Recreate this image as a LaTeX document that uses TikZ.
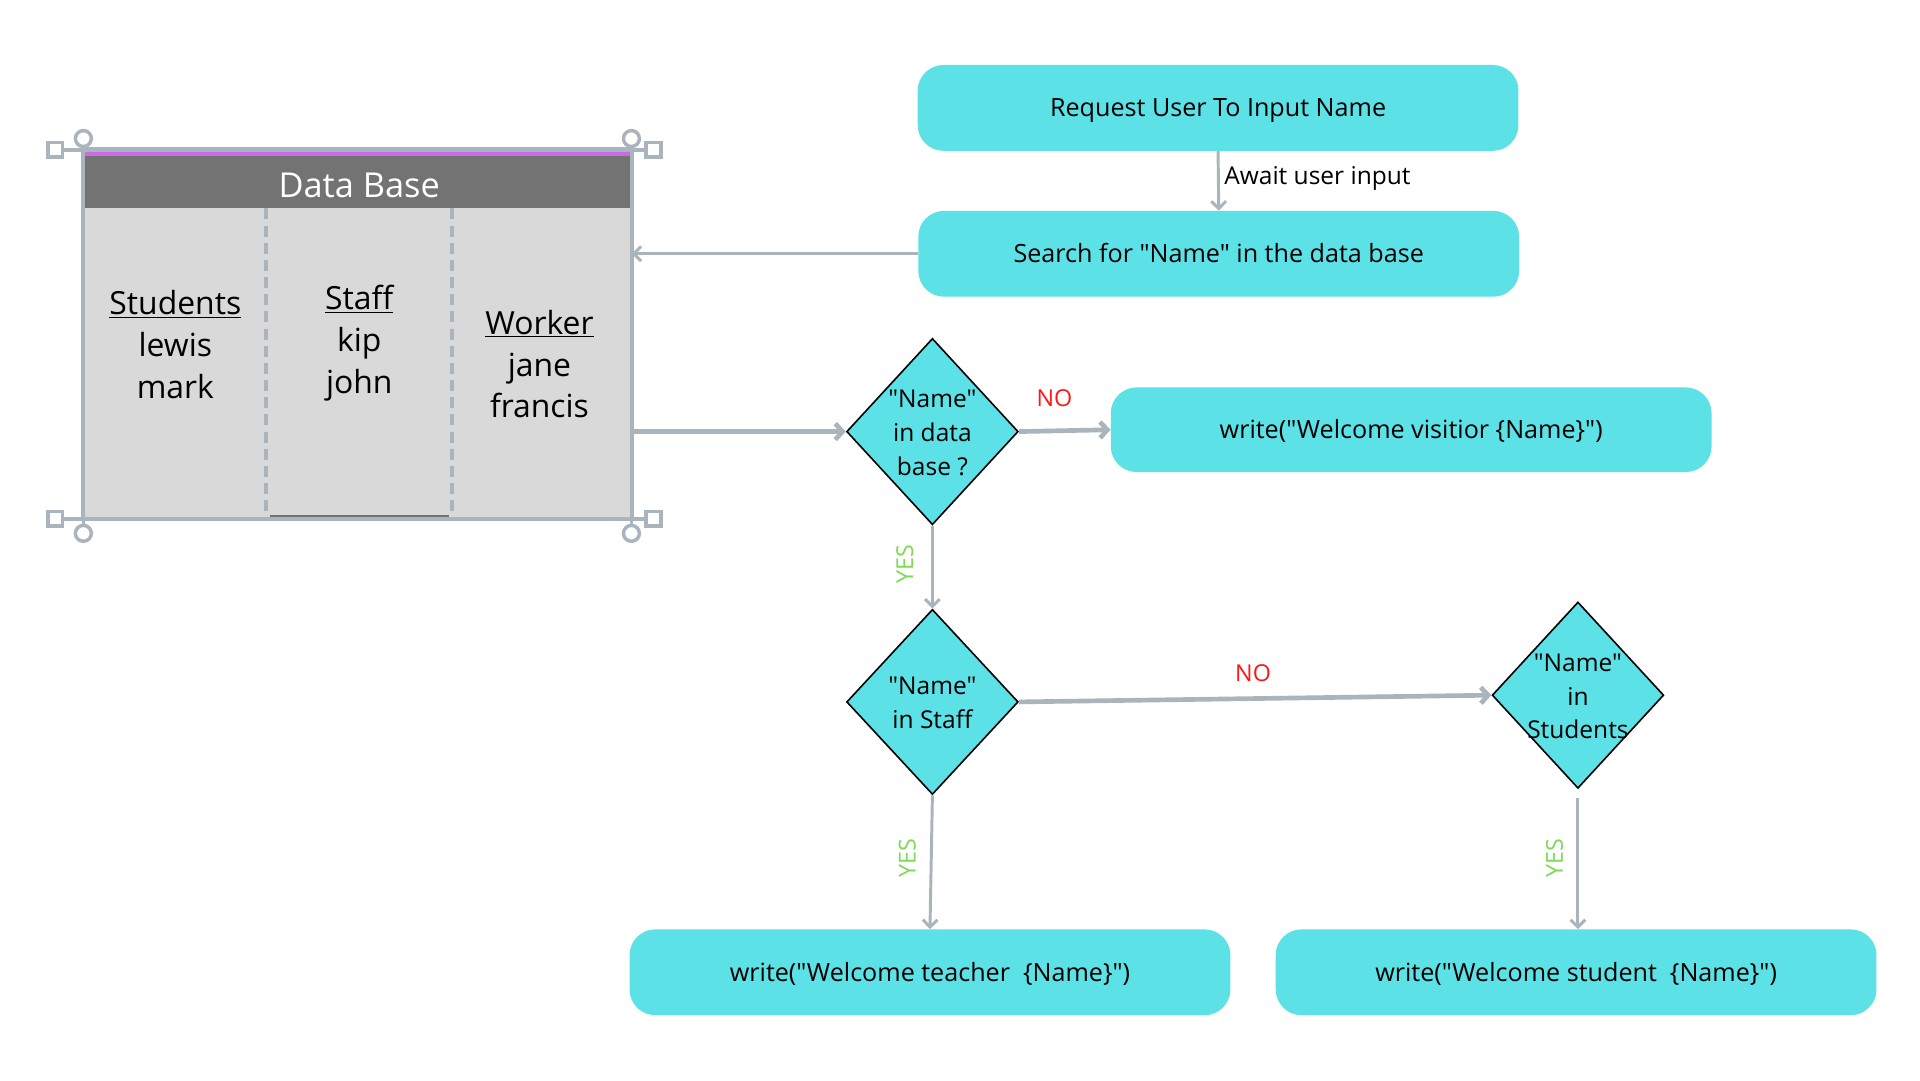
\documentclass[tikz,border=0pt]{standalone}
\usepackage{fontspec}
\setmainfont{Open Sans}[Ligatures=TeXOff]
\usetikzlibrary{arrows.meta,shapes.geometric}
\definecolor{cyanbox}{HTML}{5CE1E6}
\definecolor{arrowgray}{HTML}{A9B4BC}
\definecolor{nored}{HTML}{FF1616}
\definecolor{yesgreen}{HTML}{7ED957}
\definecolor{hdrgray}{HTML}{737373}
\definecolor{bodygray}{HTML}{D9D9D9}
\definecolor{purp}{HTML}{CB6CE6}
\begin{document}
\begin{tikzpicture}[x=1pt,y=-1pt,
  procbox/.style={fill=cyanbox, rounded corners=21pt, minimum width=490pt, minimum height=70pt, inner sep=0pt, text height=14.6pt, text depth=0pt, font=\fontsize{20.5}{24}\selectfont},
  decision/.style={diamond, fill=cyanbox, draw=black, line width=1.3pt, minimum width=140pt, minimum height=152pt, inner sep=0pt},
  dtext/.style={align=center, font=\fontsize{20}{27.5}\selectfont},
  thinarrow/.style={draw=arrowgray, line width=2.4pt, -{Straight Barb[length=6pt,width=12pt]}},
  thickarrow/.style={draw=arrowgray, line width=3.8pt, -{Straight Barb[length=6pt,width=13pt]}},
  nolabel/.style={text=nored, text height=13.5pt, text depth=0pt, font=\fontsize{19}{22}\selectfont},
  yeslabel/.style={text=yesgreen, font=\fontsize{19}{22}\selectfont, rotate=90},
  dbtext/.style={align=center, font=\fontsize{26}{34}\selectfont},
  handle/.style={draw=arrowgray, line width=2.8pt, fill=white},
]
\useasboundingbox[fill=white] (0,0) rectangle (1566,881);

% ---------- Data base ----------
\node[fill=bodygray, minimum width=447pt, minimum height=301pt, inner sep=0pt] (db) at (291.5,272.5) {};
\fill[hdrgray] (69.5,126) rectangle (513.5,170);
\fill[purp] (69.5,123.5) rectangle (513.5,127.5);
\draw[arrowgray, line width=3.2pt, dash pattern=on 9pt off 5pt] (217,170) -- (217,423);
\draw[arrowgray, line width=3.2pt, dash pattern=on 9pt off 5pt] (369,170) -- (369,423);
\draw[hdrgray, line width=1.2pt] (220,421) -- (366,421);
\draw[arrowgray, line width=3.2pt] (db.north west) rectangle (db.south east);
% selection handles
\draw[arrowgray, line width=3.2pt] (45,122) -- (533,122);
\draw[arrowgray, line width=3.2pt] (45,423) -- (533,423);
\draw[arrowgray, line width=2.8pt] (68,113) -- (68,122) (515,113) -- (515,122) (68,423) -- (68,435) (515,423) -- (515,435);
\draw[handle] (39,116) rectangle (51,128);
\draw[handle] (527,116) rectangle (539,128);
\draw[handle] (39,417) rectangle (51,429);
\draw[handle] (527,417) rectangle (539,429);
\draw[handle] (68,113) circle[radius=6.5pt];
\draw[handle] (515,113) circle[radius=6.5pt];
\draw[handle] (68,435) circle[radius=6.5pt];
\draw[handle] (515,435) circle[radius=6.5pt];
\node[text=white, font=\fontsize{28}{32}\selectfont] (dbtitle) at (293,151) {Data Base};
\node[dbtext] (colstu) at (143,281) {\underline{Students}\\lewis\\mark};
\node[dbtext] (colstaff) at (293,280) {\underline{Staff}\\kip\\john};
\node[dbtext] (colwork) at (440,297) {\underline{Worker}\\jane\\francis};

% ---------- Process boxes ----------
\node[procbox] (req) at (993.5,88) {Request User To Input Name};
\node[procbox] (search) at (994,207) {Search for "Name" in the data base};
\node[procbox, minimum height=69pt] (visitor) at (1151,350.5) {write("Welcome visitior \{Name\}")};
\node[procbox] (teacher) at (758.5,793) {write("Welcome teacher\ \ \{Name\}")};
\node[procbox] (student) at (1285.5,793) {write("Welcome student\ \ \{Name\}")};

% ---------- Decisions ----------
\node[decision] (d1) at (760.5,352) {};
\node[dtext] (d1t) at (760.5,353) {"Name"\\in data\\base ?};
\node[decision, minimum height=151pt] (d2) at (760.5,572.5) {};
\node[dtext] (d2t) at (760.5,573.5) {"Name"\\in Staff};
\node[decision] (d3) at (1287,567) {};
\node[dtext] (d3t) at (1287,568) {"Name"\\in\\Students};

% ---------- Connectors ----------
\draw[thinarrow] (req.south) -- (search.north);
\node[anchor=west, text height=14.3pt, text depth=0pt, font=\fontsize{20}{24}\selectfont] (await) at (995,143) {Await user input};
\draw[thinarrow] (search.west) -- (search.west -| db.east);
\draw[thickarrow] (d1.west -| db.east) -- (d1.west);
\draw[thickarrow] (d1.east) -- (visitor.west);
\node[nolabel] (no1) at (860,325) {NO};
\draw[thinarrow] (d1.south) -- (d2.north);
\node[yeslabel] (yes1) at (738,460) {YES};
\draw[thickarrow] (d2.east) -- (d3.west);
\node[nolabel] (no2) at (1022,549) {NO};
\draw[thinarrow] (d2.south) -- (teacher.north);
\node[yeslabel] (yes2) at (740,700) {YES};
\coordinate (d3out) at (1287,651);
\draw[thinarrow] (d3out) -- (d3out |- student.north);
\node[yeslabel] (yes3) at (1268,700) {YES};
\end{tikzpicture}
\end{document}
